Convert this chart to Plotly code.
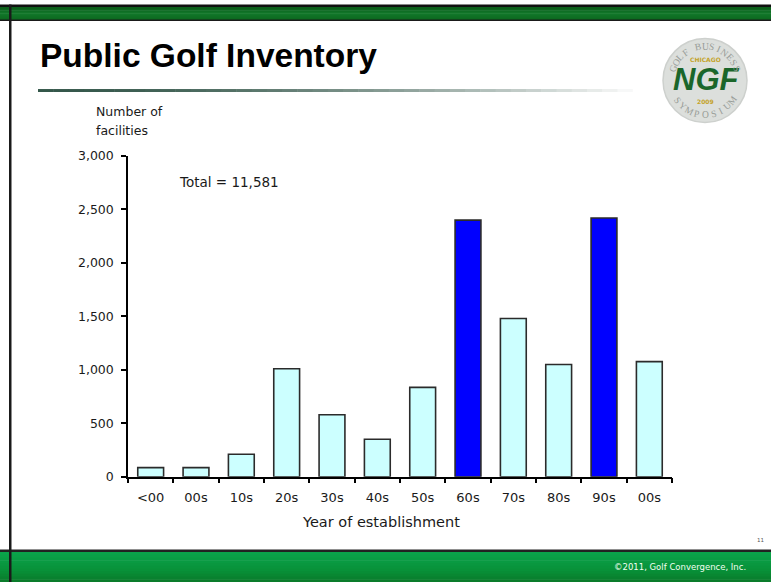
import math
import plotly.graph_objects as go

W, H = 771, 582

# Facilities by decade of establishment
decades = ["<00", "00s", "10s", "20s", "30s", "40s", "50s", "60s", "70s", "80s", "90s", "00s"]
facilities = [85, 85, 210, 1010, 580, 350, 835, 2400, 1480, 1050, 2420, 1076]
highlight_idx = [7, 10]          # the two boom decades
y_ticks = [0, 500, 1000, 1500, 2000, 2500, 3000]

LIGHT = "#ccffff"
DARK = "#0000ff"
EDGE = "#2b2b2b"
TEXT = "#1a1a1a"

# vertical placement helpers (screen pixels -> paper fraction)
Y_OFF, Y_SPAN = 7.4, 567.5


def px(x):
    return x / W


def py(y):
    return 1 - (y - Y_OFF) / Y_SPAN


def mix(c1, c2, t):
    a = [int(c1[i:i + 2], 16) for i in (1, 3, 5)]
    b = [int(c2[i:i + 2], 16) for i in (1, 3, 5)]
    return "#" + "".join(f"{round(a[k] + (b[k] - a[k]) * t):02x}" for k in range(3))


shapes = []


def rect(x0, y0, x1, y1, color, layer="below"):
    shapes.append(dict(type="rect", xref="paper", yref="paper",
                       x0=px(x0), x1=px(x1), y0=py(y1), y1=py(y0),
                       fillcolor=color, line=dict(width=0), layer=layer))


def band(y0, y1, stops, steps=12):
    h = (y1 - y0) / steps
    for i in range(steps):
        t = i / (steps - 1)
        if t <= 0.5:
            c = mix(stops[0], stops[1], t * 2)
        else:
            c = mix(stops[1], stops[2], (t - 0.5) * 2)
        rect(0, y0 + i * h, W, y0 + (i + 1) * h + 0.5, c)


# slide frame: top header band, bottom footer band, left border
rect(0, 4, W, 6.5, "#111111")
band(6.5, 19, ["#0c5f1b", "#12782a", "#0d6a20"], steps=8)
rect(0, 19, W, 20.5, "#1a1a1a")
rect(0, 549.5, W, 552, "#222222")
band(552, 590, ["#0aa34a", "#089038", "#0b6a20"], steps=14)
rect(9, 4, 11.5, 590, "#1a1a1a")

# title underline fading to white
seg = 40
x_start, x_end = 38, 648
for i in range(seg):
    t = i / (seg - 1)
    c = mix("#34574a", "#ffffff", t ** 1.6)
    xa = x_start + (x_end - x_start) * i / seg
    xb = x_start + (x_end - x_start) * (i + 1) / seg + 0.5
    rect(xa, 88.5, xb, 91.5, c)

# emblem disc
cx, cy, r = 705, 80, 42
shapes.append(dict(type="circle", xref="paper", yref="paper",
                   x0=px(cx - r), x1=px(cx + r), y0=py(cy + r), y1=py(cy - r),
                   fillcolor="#dcdfdc", line=dict(color="#cdd0cd", width=1.5),
                   layer="below"))

fig = go.Figure()
fig.add_trace(go.Bar(
    x=list(range(len(decades))),
    y=facilities,
    marker=dict(
        color=[DARK if i in highlight_idx else LIGHT for i in range(len(decades))],
        line=dict(color=EDGE, width=1.6),
    ),
    width=0.57,
    hoverinfo="skip",
))


def note(text, x, y, size, family="DejaVu Sans", color=TEXT, xanchor="left", **kw):
    return dict(text=text, xref="paper", yref="paper", x=px(x), y=py(y),
                xanchor=xanchor, yanchor="middle", showarrow=False,
                font=dict(family=family, size=size, color=color, **kw.pop("font_extra", {})),
                **kw)


annotations = [
    note("<b>Public Golf Inventory</b>", 38, 55, 33.5, family="Liberation Sans", color="#000000"),
    note("Number of", 94, 111, 12.5),
    note("facilities", 94, 130, 12.5),
    note(f"Total = {sum(facilities):,}", 177, 182, 13.5),
    note("Year of establishment", 381, 522, 14.5, xanchor="center"),
    note("©2011, Golf Convergence, Inc.", 748, 567, 8.5, color="#f2fff2", xanchor="right"),
    note("11", 760, 540, 5.5, color="#555555", xanchor="center"),
    # emblem lettering
    note("<b>CHICAGO</b>", cx, 59, 6, color="#c4a32a", xanchor="center"),
    note("NGF", cx + 1, 79, 31, family="Liberation Sans", color="#1a662a", xanchor="center",
         font_extra=dict(weight="bold", style="italic")),
    note("<b>2009</b>", cx, 101, 6, color="#c4a32a", xanchor="center"),
]


def arc_text(word, a_start, a_end, radius, top=True):
    n = len(word)
    for i, ch in enumerate(word):
        if ch == " ":
            continue
        a = a_start + (a_end - a_start) * i / (n - 1)
        rad = math.radians(a)
        x = cx + radius * math.cos(rad)
        y = cy - radius * math.sin(rad)
        ang = 90 - a if top else 270 - a
        annotations.append(note(ch, x, y, 9.5, family="Liberation Serif", color="#979c97",
                                xanchor="center", textangle=ang))


arc_text("GOLF BUSINESS", 160, 20, 34, top=True)
arc_text("SYMPOSIUM", 215, 325, 34, top=False)

fig.update_layout(
    width=W, height=H,
    margin=dict(l=0, r=0, t=0, b=0),
    paper_bgcolor="#ffffff",
    plot_bgcolor="rgba(0,0,0,0)",
    showlegend=False,
    shapes=shapes,
    annotations=annotations,
    xaxis=dict(
        domain=[px(128), px(672)],
        range=[-0.5, len(decades) - 0.5],
        tickmode="array",
        tickvals=list(range(len(decades))),
        ticktext=decades,
        ticks="",
        ticklabelstandoff=8,
        tickfont=dict(family="DejaVu Sans", size=13, color=TEXT),
        minor=dict(tickmode="array",
                   tickvals=[i - 0.5 for i in range(len(decades) + 1)],
                   ticks="outside", ticklen=5, tickwidth=1.5, tickcolor="#000000"),
        showline=True, linecolor="#000000", linewidth=1.5,
        showgrid=False, zeroline=False, fixedrange=True,
    ),
    yaxis=dict(
        domain=[py(476.5), py(155.5)],
        range=[0, 3000],
        tickmode="array",
        tickvals=y_ticks,
        tickformat=",d",
        ticks="outside", ticklen=5, tickwidth=1.5, tickcolor="#000000",
        ticklabelstandoff=5,
        tickfont=dict(family="DejaVu Sans", size=12.5, color=TEXT),
        showline=True, linecolor="#000000", linewidth=1.5,
        showgrid=False, zeroline=False, fixedrange=True,
    ),
)

fig.write_html("out.html", config={"displayModeBar": False})
